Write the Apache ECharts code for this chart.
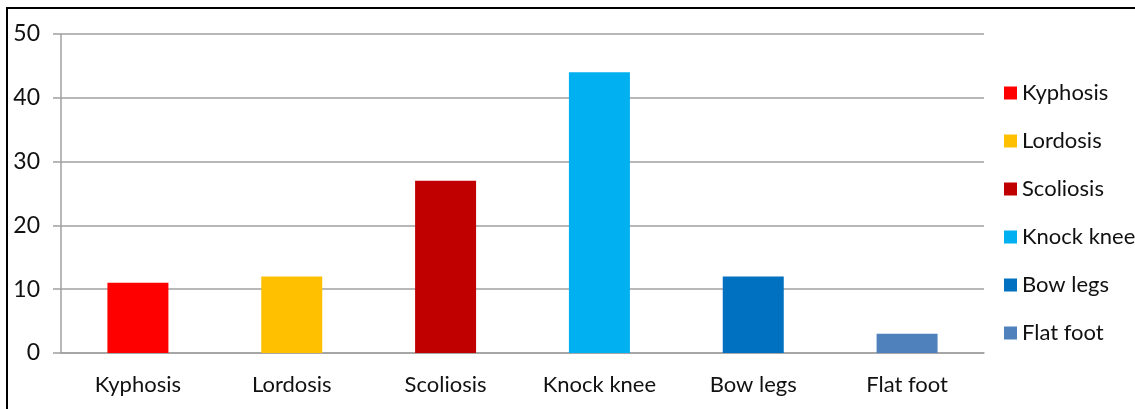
<!DOCTYPE html>
<html>
<head>
<meta charset="utf-8">
<script src="https://cdn.jsdelivr.net/npm/echarts@6/dist/echarts.min.js"></script>
<style>
  html, body { margin: 0; padding: 0; background: #fff; }
  #chart { width: 1135px; height: 409px; }
</style>
</head>
<body>
<div id="chart"></div>
<script>
// categories and values
const categories = ['Kyphosis', 'Lordosis', 'Scoliosis', 'Knock knee', 'Bow legs', 'Flat foot']
const values = [11, 12, 27, 44, 12, 3]
const colors = ['#ff0000', '#ffc000', '#c00000', '#00b0f0', '#0070c0', '#4f81bd']
const yTicks = [0, 10, 20, 30, 40, 50]

const font = 'Lato, "Open Sans", sans-serif'
const chart = echarts.init(document.getElementById('chart'))

// one series per category so the legend gets one entry each
const series = categories.map((name, i) => ({
  name: name,
  type: 'bar',
  stack: 'all',
  barWidth: 61,
  itemStyle: { color: colors[i] },
  data: values.map((v, j) => (j === i ? v : '-'))
}))

chart.setOption({
  animation: false,
  textStyle: { fontFamily: font },
  grid: { left: 61, top: 34, right: 151, bottom: 56 },
  graphic: [
    {
      type: 'rect',
      shape: { x: 7, y: 8, width: 1200, height: 500 },
      style: { fill: 'none', stroke: '#000', lineWidth: 2 },
      silent: true
    }
  ],
  legend: {
    orient: 'vertical',
    left: 999,
    top: 76,
    itemWidth: 13,
    itemHeight: 13,
    itemGap: 24,
    icon: 'rect',
    textStyle: { fontFamily: font, fontSize: 22, color: '#111', lineHeight: 24 },
    data: categories
  },
  xAxis: {
    type: 'category',
    data: categories,
    axisLine: { lineStyle: { color: '#a0a0a0', width: 1.5 } },
    axisTick: { length: 8, lineStyle: { color: '#a0a0a0', width: 1.5 } },
    axisLabel: { fontFamily: font, fontSize: 22, color: '#111', margin: 21 }
  },
  yAxis: {
    type: 'value',
    min: yTicks[0],
    max: yTicks[yTicks.length - 1],
    interval: 10,
    axisLine: { show: true, lineStyle: { color: '#a0a0a0', width: 1.5 } },
    axisTick: { show: true, length: 8, lineStyle: { color: '#a0a0a0', width: 1.5 } },
    axisLabel: { fontFamily: font, fontSize: 23, color: '#111', margin: 21 },
    splitLine: { lineStyle: { color: '#a0a0a0', width: 1.5 } }
  },
  series: series
})
</script>
</body>
</html>
